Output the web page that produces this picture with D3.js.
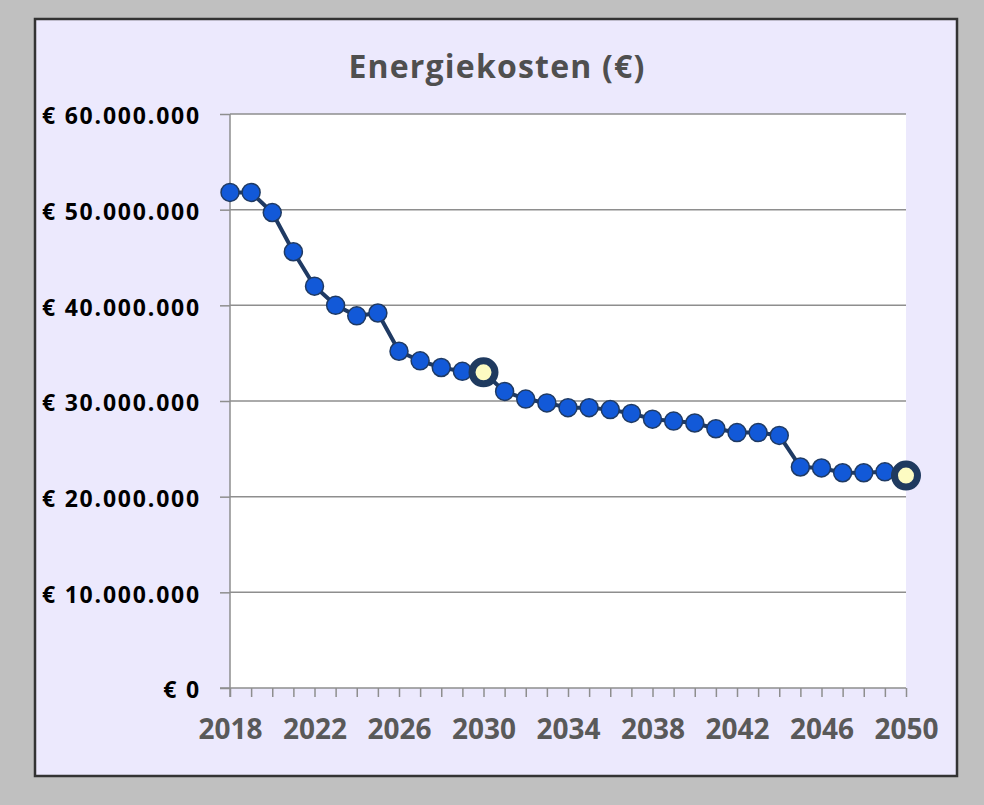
<!DOCTYPE html>
<html>
<head>
<meta charset="utf-8">
<script src="https://cdn.jsdelivr.net/npm/d3@7"></script>
<style>
    body { margin: 0; background: #c0c0c0; }
    svg { display: block; }
    text { font-family: "Open Sans", sans-serif; font-weight: bold; }
</style>
</head>
<body>
<div id="chart"></div>
<script>
"use strict";

// chart data
var years = [2018, 2019, 2020, 2021, 2022, 2023, 2024, 2025, 2026, 2027, 2028,
    2029, 2030, 2031, 2032, 2033, 2034, 2035, 2036, 2037, 2038, 2039, 2040,
    2041, 2042, 2043, 2044, 2045, 2046, 2047, 2048, 2049, 2050];
var costs = [51.8, 51.8, 49.7, 45.6, 42.0, 40.0, 38.9, 39.2, 35.2, 34.2, 33.5,
    33.1, 33.0, 31.0, 30.2, 29.8, 29.3, 29.3, 29.1, 28.7, 28.1, 27.9, 27.7,
    27.1, 26.7, 26.7, 26.4, 23.1, 23.0, 22.5, 22.5, 22.6, 22.2].map(function (v) { return v * 1e6; });
var highlightYears = [2030, 2050];
var yTicks = [0, 10e6, 20e6, 30e6, 40e6, 50e6, 60e6];
var xLabelYears = [2018, 2022, 2026, 2030, 2034, 2038, 2042, 2046, 2050];
var title = "Energiekosten (€)";

var width = 984, height = 805;
var margin = { top: 114, right: 78, bottom: 117, left: 230 };

var svg = d3.select("#chart")
    .append("svg")
    .attr("width", width)
    .attr("height", height);

// outer chart box
svg.append("rect")
    .attr("x", 35).attr("y", 19)
    .attr("width", 922).attr("height", 757)
    .attr("fill", "#ece9fd")
    .attr("stroke", "#333333")
    .attr("stroke-width", 2.5);

var x = d3.scaleLinear()
    .domain([2018, 2050])
    .range([margin.left, width - margin.right]);

var y = d3.scaleLinear()
    .domain([0, 60e6])
    .range([height - margin.bottom, margin.top]);

// white plot area
svg.append("rect")
    .attr("x", x(2018)).attr("y", y(60e6))
    .attr("width", x(2050) - x(2018))
    .attr("height", y(0) - y(60e6))
    .attr("fill", "#ffffff");

// title
svg.append("text")
    .attr("x", 497).attr("y", 78)
    .attr("text-anchor", "middle")
    .attr("fill", "#4f4f4f")
    .style("font-size", "32px")
    .style("letter-spacing", "1.2px")
    .text(title);

// gridlines
svg.append("g")
    .selectAll("line")
    .data(yTicks.filter(function (d) { return d > 0; }))
    .join("line")
    .attr("x1", x(2018)).attr("x2", x(2050))
    .attr("y1", function (d) { return y(d); })
    .attr("y2", function (d) { return y(d); })
    .attr("stroke", "#8e8e8e")
    .attr("stroke-width", 1.5);

// Y axis
function euro(v) {
    return "€ " + d3.format(",")(v).replace(/,/g, ".");
}
var yAxis = svg.append("g")
    .attr("transform", "translate(" + x(2018) + ",0)")
    .call(d3.axisLeft(y).tickValues(yTicks).tickSize(10).tickPadding(19).tickFormat(euro));
yAxis.select(".domain").remove();
yAxis.selectAll(".tick line").attr("stroke", "#8e8e8e").attr("stroke-width", 1.5);
yAxis.selectAll(".tick text")
    .attr("fill", "#000000")
    .attr("dy", "0.42em")
    .style("font-size", "23px")
    .style("letter-spacing", "1.8px");

// X axis
var xAxis = svg.append("g")
    .attr("transform", "translate(0," + y(0) + ")")
    .call(d3.axisBottom(x).tickValues(years).tickSize(9).tickPadding(22)
        .tickFormat(function (d) { return xLabelYears.indexOf(d) >= 0 ? d : ""; }));
xAxis.select(".domain").remove();
xAxis.selectAll(".tick line").attr("stroke", "#8e8e8e").attr("stroke-width", 1.5);
xAxis.selectAll(".tick text")
    .attr("fill", "#595959")
    .style("font-size", "28px");

// axis lines
svg.append("line")
    .attr("x1", x(2018) - 10).attr("x2", x(2050))
    .attr("y1", y(0)).attr("y2", y(0))
    .attr("stroke", "#8e8e8e").attr("stroke-width", 1.5);
svg.append("line")
    .attr("x1", x(2018)).attr("x2", x(2018))
    .attr("y1", y(60e6)).attr("y2", y(0) + 9)
    .attr("stroke", "#8e8e8e").attr("stroke-width", 1.5);

var data = years.map(function (d, i) { return { year: d, value: costs[i] }; });

// line
svg.append("path")
    .datum(data)
    .attr("fill", "none")
    .attr("stroke", "#1f3a63")
    .attr("stroke-width", 4)
    .attr("d", d3.line()
        .x(function (d) { return x(d.year); })
        .y(function (d) { return y(d.value); }));

// markers
svg.append("g")
    .selectAll("circle")
    .data(data.filter(function (d) { return highlightYears.indexOf(d.year) < 0; }))
    .join("circle")
    .attr("cx", function (d) { return x(d.year); })
    .attr("cy", function (d) { return y(d.value); })
    .attr("r", 9)
    .attr("fill", "#1259d8")
    .attr("stroke", "#1f3a63")
    .attr("stroke-width", 1.5);

// highlighted markers
svg.append("g")
    .selectAll("circle")
    .data(data.filter(function (d) { return highlightYears.indexOf(d.year) >= 0; }))
    .join("circle")
    .attr("cx", function (d) { return x(d.year); })
    .attr("cy", function (d) { return y(d.value); })
    .attr("r", 11.5)
    .attr("fill", "#fdfbc2")
    .attr("stroke", "#1f3a5f")
    .attr("stroke-width", 7);
</script>
</body>
</html>
